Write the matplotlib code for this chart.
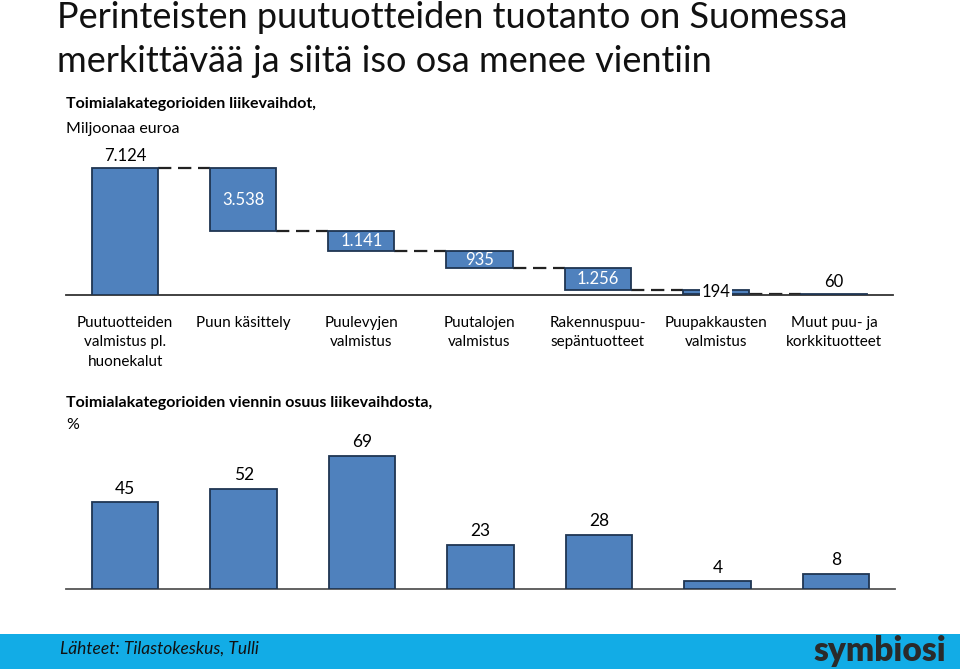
import matplotlib
matplotlib.use("Agg")
from matplotlib import pyplot as plt
from matplotlib.patches import Rectangle

plt.rcParams["font.family"] = ["Lato", "DejaVu Sans"]

categories = [
    "Puutuotteiden\nvalmistus pl.\nhuonekalut",
    "Puun käsittely",
    "Puulevyjen\nvalmistus",
    "Puutalojen\nvalmistus",
    "Rakennuspuu-\nsepäntuotteet",
    "Puupakkausten\nvalmistus",
    "Muut puu- ja\nkorkkituotteet",
]
turnover = [7124, 3538, 1141, 935, 1256, 194, 60]  # milj. euroa, first is the total
export_share = [45, 52, 69, 23, 28, 4, 8]  # %

title_lines = ["Perinteisten puutuotteiden tuotanto on Suomessa",
               "merkittävää ja siitä iso osa menee vientiin"]
footer = "Lähteet: Tilastokeskus, Tulli"

BAR = "#4F81BD"
EDGE = "#1F3552"
W, H = 960, 669


def box(x0, y0, x1, y1):
    # pixel box (top-left origin) -> figure fraction rect
    return [x0 / W, 1 - y1 / H, (x1 - x0) / W, (y1 - y0) / H]


def fmt(v):
    return f"{v:,}".replace(",", ".")


fig = plt.figure(figsize=(9.6, 6.69), dpi=100)

for yy, line in zip([17, 62], title_lines):
    fig.text(57 / W, 1 - yy / H, line, fontsize=26, va="center", ha="left",
             color="#111111")
fig.text(66 / W, 1 - 104 / H, "Toimialakategorioiden liikevaihdot,",
         fontsize=11.5, fontweight="bold", va="center")
fig.text(66 / W, 1 - 129 / H, "Miljoonaa euroa", fontsize=11.5, va="center")

# waterfall
ax = fig.add_axes(box(66, 150, 893, 295))
x = list(range(len(turnover)))
bottoms = [0]
level = turnover[0]
for v in turnover[1:]:
    level -= v
    bottoms.append(level)
ax.bar(x, turnover, bottom=bottoms, width=0.56, color=BAR,
       edgecolor=EDGE, linewidth=1.3, zorder=3)

bw = 0.28
for i in range(len(x) - 1):
    lvl = bottoms[i] if i > 0 else turnover[0]
    ax.plot([x[i] + bw, x[i + 1] - bw], [lvl, lvl], color="#222222",
            lw=1.6, ls=(0, (6, 3)), zorder=2)

label_pos = ["above", "inside", "inside", "inside", "inside", "center", "above"]
for xi, v, b, pos in zip(x, turnover, bottoms, label_pos):
    if pos == "above":
        ax.annotate(fmt(v), (xi, b + v), xytext=(0, 3), textcoords="offset points",
                    ha="center", va="bottom", fontsize=12)
    elif pos == "inside":
        ax.text(xi, b + v / 2, fmt(v), ha="center", va="center",
                color="white", fontsize=12, zorder=4)
    else:
        ax.text(xi, b + v / 2, fmt(v), ha="center", va="center", fontsize=12,
                zorder=4, bbox=dict(facecolor="white", edgecolor="none", pad=1))

ax.set_xlim(-0.5, len(x) - 0.5)
ax.set_ylim(0, turnover[0] * (295 - 150) / (295 - 168))
ax.set_xticks(x)
ax.set_xticklabels(categories, fontsize=11, linespacing=1.5)
ax.tick_params(axis="x", length=0, pad=15)
ax.set_yticks([])
for s in ["top", "right", "left"]:
    ax.spines[s].set_visible(False)
ax.spines["bottom"].set_color("#333333")
ax.spines["bottom"].set_linewidth(1.3)

# export share
fig.text(66 / W, 1 - 403 / H, "Toimialakategorioiden viennin osuus liikevaihdosta,",
         fontsize=11.5, fontweight="bold", va="center")
fig.text(66 / W, 1 - 425 / H, "%", fontsize=11.5, va="center")

ax2 = fig.add_axes(box(66, 440, 895, 589))
ax2.bar(x, export_share, width=0.56, color=BAR, edgecolor=EDGE,
        linewidth=1.3, zorder=3)
for xi, v in zip(x, export_share):
    ax2.annotate(str(v), (xi, v), xytext=(0, 4), textcoords="offset points",
                 ha="center", va="bottom", fontsize=12.5)
ax2.set_xlim(-0.5, len(x) - 0.5)
ax2.set_ylim(0, export_share[2] * (589 - 440) / (589 - 456))
ax2.set_xticks([])
ax2.set_yticks([])
for s in ["top", "right", "left"]:
    ax2.spines[s].set_visible(False)
ax2.spines["bottom"].set_color("#555555")
ax2.spines["bottom"].set_linewidth(1.3)

# footer band
fig.patches.append(Rectangle((0, 0), 1, 35 / H, transform=fig.transFigure,
                             facecolor="#12ACE6", edgecolor="none", zorder=0))
fig.text(60 / W, 1 - 649 / H, footer, fontsize=12.5, style="italic",
         va="center", color="#111111")
fig.text(946 / W, 1 - 651 / H, "symbiosi", fontsize=24, fontweight="heavy",
         ha="right", va="center", color="#2A2A2A")

fig.savefig("out.png", dpi=100)
